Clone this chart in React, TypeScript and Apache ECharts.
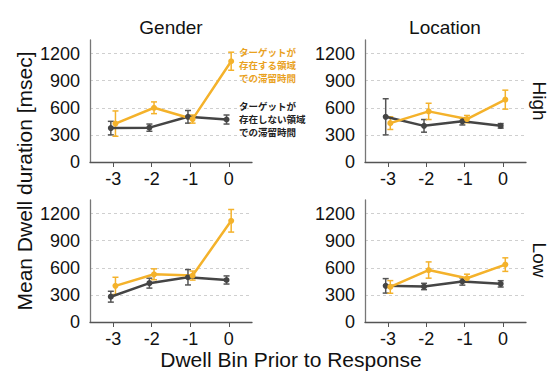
import React, { useEffect, useRef } from "react";
import * as echarts from "echarts";

const bins = [-3, -2, -1, 0];
const yTicks = [0, 300, 600, 900, 1200];

// panel order: Gender-High, Location-High, Gender-Low, Location-Low
const presentMean = [
  [425, 600, 475, 1115],
  [430, 560, 475, 690],
  [400, 528, 514, 1120],
  [388, 575, 484, 635],
];
const presentErr = [
  [140, 65, 45, 100],
  [70, 90, 40, 105],
  [95, 60, 50, 125],
  [70, 90, 45, 75],
];
const absentMean = [
  [375, 380, 500, 470],
  [500, 400, 450, 400],
  [280, 430, 495, 465],
  [400, 393, 448, 422],
];
const absentErr = [
  [75, 40, 70, 50],
  [200, 70, 40, 25],
  [60, 55, 85, 45],
  [80, 35, 40, 35],
];

const colTitles = ["Gender", "Location"];
const rowTitles = ["High", "Low"];
const presentLabel = "ターゲットが\n存在する領域\nでの滞留時間";
const absentLabel = "ターゲットが\n存在しない領域\nでの滞留時間";
const yTitle = "Mean Dwell duration [msec]";
const xTitle = "Dwell Bin Prior to Response";

const ORANGE = "#F4B22B";
const GRAY = "#454545";
const FONT = "'Liberation Sans', Arial, sans-serif";

const grids = [
  { left: 90, top: 40, width: 162, height: 122 },
  { left: 365, top: 40, width: 161, height: 122 },
  { left: 90, top: 200, width: 162, height: 122 },
  { left: 365, top: 200, width: 161, height: 122 },
];

const DODGE = 0.06;

function errSeries(idx: number, means: number[], errs: number[], color: string, off: number) {
  const data = bins.map((b, i) => [b + off, means[i], means[i] - errs[i], means[i] + errs[i]]);
  return {
    type: "custom",
    xAxisIndex: idx,
    yAxisIndex: idx,
    data,
    z: 3,
    silent: true,
    renderItem: (params: any, api: any) => {
      const x = api.value(0);
      const lo = api.coord([x, api.value(2)]);
      const hi = api.coord([x, api.value(3)]);
      const w = 3;
      const style = { stroke: color, lineWidth: 1.5, fill: "none" };
      return {
        type: "group",
        children: [
          { type: "line", shape: { x1: lo[0], y1: lo[1], x2: hi[0], y2: hi[1] }, style },
          { type: "line", shape: { x1: lo[0] - w, y1: lo[1], x2: lo[0] + w, y2: lo[1] }, style },
          { type: "line", shape: { x1: hi[0] - w, y1: hi[1], x2: hi[0] + w, y2: hi[1] }, style },
        ],
      };
    },
  };
}

function lineSeries(idx: number, means: number[], color: string, off: number) {
  return {
    type: "line",
    xAxisIndex: idx,
    yAxisIndex: idx,
    data: bins.map((b, i) => [b + off, means[i]]),
    symbol: "circle",
    symbolSize: 6,
    z: 4,
    lineStyle: { color, width: 2.5 },
    itemStyle: { color },
  };
}

export default function App() {
  const ref = useRef<HTMLDivElement>(null);
  useEffect(() => {
    if (!ref.current) return;
    const chart = echarts.init(ref.current, null, { renderer: "svg" });
    const series: any[] = [];
    for (let p = 0; p < 4; p++) {
      series.push(errSeries(p, absentMean[p], absentErr[p], "#555", -DODGE));
      series.push(lineSeries(p, absentMean[p], GRAY, -DODGE));
      series.push(errSeries(p, presentMean[p], presentErr[p], ORANGE, DODGE));
      series.push(lineSeries(p, presentMean[p], ORANGE, DODGE));
    }
    const textStyleBase = { fontFamily: FONT, fill: "#111" };
    const jp = "'Noto Sans CJK JP', sans-serif";
    const option: any = {
      animation: false,
      grid: grids,
      xAxis: grids.map((_, i) => ({
        type: "value",
        gridIndex: i,
        min: -3.6,
        max: 0.6,
        axisLine: { onZero: false, lineStyle: { color: "#555", width: 1.3 } },
        axisTick: { show: true, length: 5, customValues: bins, lineStyle: { color: "#555" } },
        axisLabel: {
          customValues: bins,
          color: "#111",
          fontSize: 18,
          fontFamily: FONT,
          margin: 8,
          formatter: (v: number) => String(v),
        },
        splitLine: { show: false },
      })),
      yAxis: grids.map((_, i) => ({
        type: "value",
        gridIndex: i,
        min: 0,
        max: 1350,
        axisLine: { show: true, onZero: false, lineStyle: { color: "#777", width: 1.3 } },
        axisTick: { show: false, customValues: yTicks },
        axisLabel: {
          customValues: yTicks,
          color: "#111",
          fontSize: 18,
          fontFamily: FONT,
          margin: 10,
          formatter: (v: number) => String(v),
        },
        splitLine: { show: true, lineStyle: { color: "#cfcfcf", type: [3, 3], width: 1 } },
      })),
      series,
      graphic: [
        { type: "text", x: 171, y: 27, style: { ...textStyleBase, text: colTitles[0], fontSize: 19, align: "center", verticalAlign: "middle" } },
        { type: "text", x: 445, y: 27, style: { ...textStyleBase, text: colTitles[1], fontSize: 19, align: "center", verticalAlign: "middle" } },
        { type: "text", x: 539, y: 101, rotation: -Math.PI / 2, style: { ...textStyleBase, text: rowTitles[0], fontSize: 19, align: "center", verticalAlign: "middle" } },
        { type: "text", x: 539, y: 260, rotation: -Math.PI / 2, style: { ...textStyleBase, text: rowTitles[1], fontSize: 19, align: "center", verticalAlign: "middle" } },
        { type: "text", x: 24, y: 181, rotation: Math.PI / 2, style: { ...textStyleBase, text: yTitle, fontSize: 21, align: "center", verticalAlign: "middle" } },
        { type: "text", x: 291, y: 359, style: { ...textStyleBase, text: xTitle, fontSize: 21, align: "center", verticalAlign: "middle" } },
        { type: "text", x: 239, y: 45, style: { text: presentLabel, fontSize: 9.5, lineHeight: 13, fontWeight: "bold", fontFamily: jp, fill: "#E9A21F", align: "left", verticalAlign: "top" } },
        { type: "text", x: 239, y: 99, style: { text: absentLabel, fontSize: 9.5, lineHeight: 13, fontWeight: "bold", fontFamily: jp, fill: "#222", align: "left", verticalAlign: "top" } },
      ],
    };
    chart.setOption(option);
    return () => chart.dispose();
  }, []);
  return <div ref={ref} style={{ width: 548, height: 372, position: "absolute", left: 0, top: 0, background: "#fff" }} />;
}
